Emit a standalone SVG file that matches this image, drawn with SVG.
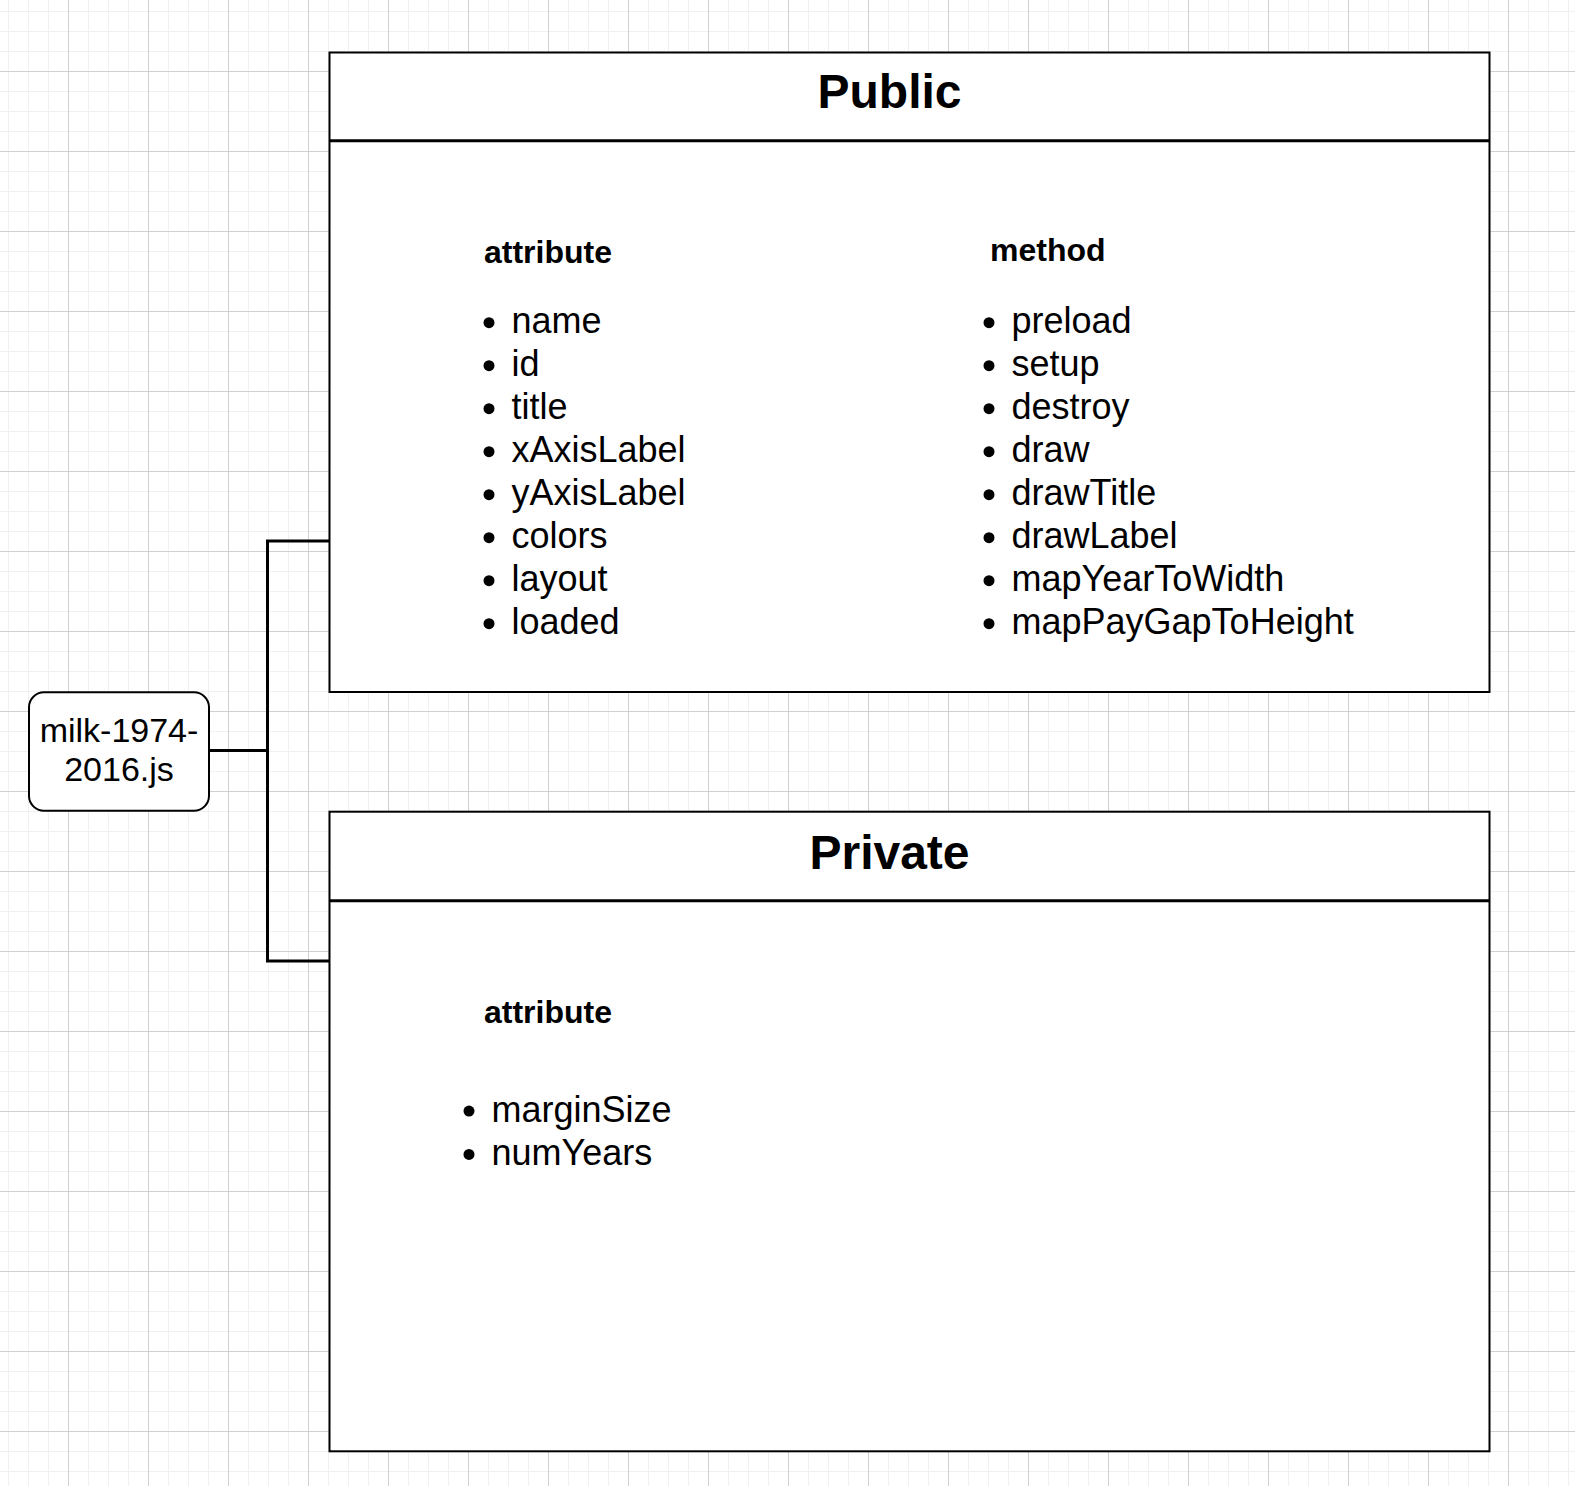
<svg xmlns="http://www.w3.org/2000/svg" width="1575" height="1486" viewBox="0 0 1575 1486">
<style>
.box{fill:#ffffff;stroke:#000000;stroke-width:2}
.div{stroke:#000000;stroke-width:3;fill:none}
.conn{stroke:#000000;stroke-width:3;fill:none}
.title{font-family:"Liberation Sans",Arial,sans-serif;font-size:48px;font-weight:bold;fill:#000;text-anchor:middle}
.hdr{font-family:"Liberation Sans",Arial,sans-serif;font-size:32px;font-weight:bold;fill:#000}
.item{font-family:"Liberation Sans",Arial,sans-serif;font-size:36px;fill:#000}
.node{font-family:"Liberation Sans",Arial,sans-serif;font-size:34px;fill:#000;text-anchor:middle}
.dot{fill:#000}
</style>
<defs>
<pattern id="grid" patternUnits="userSpaceOnUse" x="8" y="11" width="80" height="80">
<path d="M0.5 0V80M20.5 0V80M40.5 0V80M0 0.5H80M0 20.5H80M0 40.5H80" stroke="#f0f0f0" stroke-width="1" fill="none"/>
<path d="M60.5 0V80M0 60.5H80" stroke="#d0d0d0" stroke-width="1" fill="none"/>
</pattern>
</defs>
<rect x="0" y="0" width="1575" height="1486" fill="#ffffff"/>
<rect x="0" y="0" width="1575" height="1486" fill="url(#grid)"/>

<g id="connectors">
<path class="conn" d="M209 750.5H267.5"/>
<path class="conn" d="M329 541H267.5V961H329"/>
</g>

<g id="public">
<rect class="box" x="329.5" y="52.5" width="1160" height="639.5"/>
<line class="div" x1="329.5" y1="140.7" x2="1489.5" y2="140.7"/>
<text class="title" x="889.5" y="108.3">Public</text>
<text class="hdr" x="484" y="262.7">attribute</text>
<text class="hdr" x="990" y="260.7">method</text>
<g>
<circle class="dot" cx="489" cy="322.7" r="5.5"/>
<circle class="dot" cx="489" cy="365.7" r="5.5"/>
<circle class="dot" cx="489" cy="408.7" r="5.5"/>
<circle class="dot" cx="489" cy="451.7" r="5.5"/>
<circle class="dot" cx="489" cy="494.7" r="5.5"/>
<circle class="dot" cx="489" cy="537.7" r="5.5"/>
<circle class="dot" cx="489" cy="580.7" r="5.5"/>
<circle class="dot" cx="489" cy="623.7" r="5.5"/>
<text class="item" x="511.5" y="333.3">name</text>
<text class="item" x="511.5" y="376.3">id</text>
<text class="item" x="511.5" y="419.3">title</text>
<text class="item" x="511.5" y="462.3">xAxisLabel</text>
<text class="item" x="511.5" y="505.3">yAxisLabel</text>
<text class="item" x="511.5" y="548.3">colors</text>
<text class="item" x="511.5" y="591.3">layout</text>
<text class="item" x="511.5" y="634.3">loaded</text>
</g>
<g>
<circle class="dot" cx="989" cy="322.7" r="5.5"/>
<circle class="dot" cx="989" cy="365.7" r="5.5"/>
<circle class="dot" cx="989" cy="408.7" r="5.5"/>
<circle class="dot" cx="989" cy="451.7" r="5.5"/>
<circle class="dot" cx="989" cy="494.7" r="5.5"/>
<circle class="dot" cx="989" cy="537.7" r="5.5"/>
<circle class="dot" cx="989" cy="580.7" r="5.5"/>
<circle class="dot" cx="989" cy="623.7" r="5.5"/>
<text class="item" x="1011.5" y="333.3">preload</text>
<text class="item" x="1011.5" y="376.3">setup</text>
<text class="item" x="1011.5" y="419.3">destroy</text>
<text class="item" x="1011.5" y="462.3">draw</text>
<text class="item" x="1011.5" y="505.3">drawTitle</text>
<text class="item" x="1011.5" y="548.3">drawLabel</text>
<text class="item" x="1011.5" y="591.3">mapYearToWidth</text>
<text class="item" x="1011.5" y="634.3">mapPayGapToHeight</text>
</g>
</g>

<g id="private">
<rect class="box" x="329.5" y="811.7" width="1160" height="639.6"/>
<line class="div" x1="329.5" y1="900.7" x2="1489.5" y2="900.7"/>
<text class="title" x="889.5" y="869">Private</text>
<text class="hdr" x="484" y="1022.7">attribute</text>
<circle class="dot" cx="469" cy="1111.1" r="5.5"/>
<circle class="dot" cx="469" cy="1154.4" r="5.5"/>
<text class="item" x="491.5" y="1121.7">marginSize</text>
<text class="item" x="491.5" y="1165">numYears</text>
</g>

<g id="node-milk">
<rect class="box" x="29" y="692.3" width="180" height="118.5" rx="15" ry="15"/>
<text class="node" x="119" y="742.3">milk-1974-</text>
<text class="node" x="119" y="781">2016.js</text>
</g>
</svg>
